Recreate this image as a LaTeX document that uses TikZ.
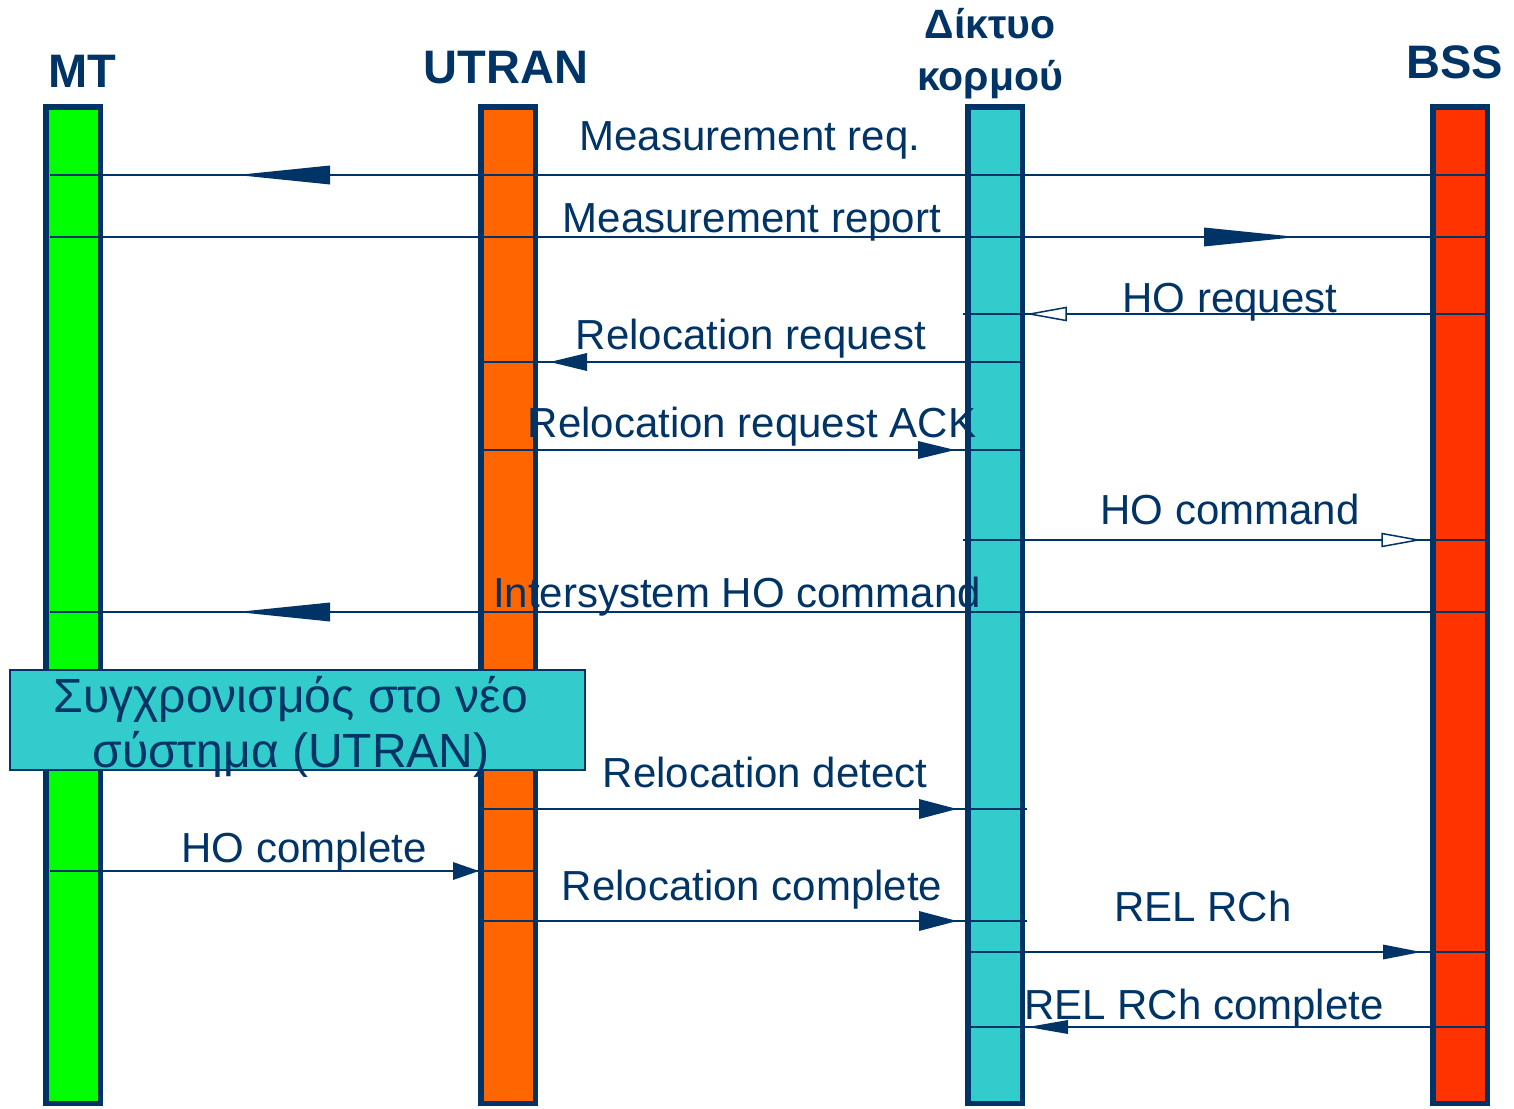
\documentclass[tikz,border=0pt]{standalone}
\usepackage{fontspec}
\setmainfont{Liberation Sans}
\usetikzlibrary{calc}
\definecolor{navy}{RGB}{0,51,102}
\definecolor{mtgreen}{RGB}{0,255,0}
\definecolor{utranorange}{RGB}{255,102,0}
\definecolor{corecyan}{RGB}{51,204,204}
\definecolor{bssred}{RGB}{255,51,0}

% point on a lifeline: name, lifeline, y, horizontal offset from its centre
\newcommand\msgpt[4]{\coordinate (#1) at ($(#2.center |- 0,#3)+(#4,0)$);}
% filled arrow head: tip x, tip y, signed length towards the base, half width
\newcommand\headsolid[4]{\fill[navy] (#1,#2) -- ++(#3,#4) -- ++(0,-2*#4) -- cycle;}
% open arrow head
\newcommand\headopen[4]{\filldraw[fill=white,draw=navy,line width=1.5pt] (#1,#2) -- ++(#3,#4) -- ++(0,-2*#4) -- cycle;}

\begin{document}
\begin{tikzpicture}[x=1pt,y=1pt,
  lifeline/.style={draw=navy, line width=5.5pt, minimum width=54.5pt,
    minimum height=996.5pt, inner sep=0pt, outer sep=0pt},
  header/.style={text=navy, font=\fontsize{47}{52}\selectfont\bfseries,
    anchor=base, inner sep=0pt},
  msglabel/.style={text=navy, font=\fontsize{42}{48}\selectfont,
    anchor=base, inner sep=0pt},
  msgline/.style={draw=navy, line width=2.5pt},
  syncbox/.style={draw=navy, line width=1.5pt, fill=corecyan,
    minimum width=575pt, minimum height=100pt, inner sep=0pt},
  synctext/.style={text=navy, font=\fontsize{48}{55}\selectfont,
    align=center, inner sep=0pt, anchor=base},
]
\useasboundingbox (0,0) rectangle (1514,-1108);

% lifelines
\node[lifeline, fill=mtgreen]     (mt)    at (73,-605)   {};
\node[lifeline, fill=utranorange] (utran) at (508,-605)  {};
\node[lifeline, fill=corecyan]    (core)  at (995,-605)  {};
\node[lifeline, fill=bssred]      (bss)   at (1460,-605) {};

% headers (a two-line node sits on the baseline of its last line)
\node[header] (hmt)    at (82,-87)   {MT};
\node[header] (hutran) at (506,-83)  {UTRAN};
\node[header, font=\fontsize{41}{52}\selectfont\bfseries, align=center]
              (hcore)  at (990,-90)  {Δίκτυο\\κορμού};
\node[header] (hbss)   at (1455,-78) {BSS};

% Measurement req.
\msgpt{m1a}{bss}{-175}{26} \msgpt{m1b}{mt}{-175}{-23}
\draw[msgline] (m1a) -- (m1b);
\headsolid{237}{-175}{93}{9.5}
\node[msglabel] (l1) at (750,-150) {Measurement req.};

% Measurement report
\msgpt{m2a}{mt}{-237}{-23} \msgpt{m2b}{bss}{-237}{26}
\draw[msgline] (m2a) -- (m2b);
\headsolid{1297}{-237}{-93}{9.5}
\node[msglabel] (l2) at (752,-232) {Measurement report};

% HO request
\msgpt{m3a}{bss}{-314}{26} \msgpt{m3b}{core}{-314}{-32}
\draw[msgline] (m3a) -- (m3b);
\headopen{1030}{-314}{36}{6.5}
\node[msglabel] (l3) at (1230,-312) {HO request};

% Relocation request
\msgpt{m4a}{core}{-362}{25} \msgpt{m4b}{utran}{-362}{-26}
\draw[msgline] (m4a) -- (m4b);
\headsolid{550}{-362}{37}{9}
\node[msglabel] (l4) at (751,-349) {Relocation request};

% Relocation request ACK
\msgpt{m5a}{utran}{-450}{-26} \msgpt{m5b}{core}{-450}{25}
\draw[msgline] (m5a) -- (m5b);
\headsolid{955}{-450}{-37}{9}
\node[msglabel] (l5) at (752,-437) {Relocation request ACK};

% HO command
\msgpt{m6a}{core}{-540}{-32} \msgpt{m6b}{bss}{-540}{26}
\draw[msgline] (m6a) -- (m6b);
\headopen{1418}{-540}{-36}{6.5}
\node[msglabel] (l6) at (1230,-524) {HO command};

% Intersystem HO command
\msgpt{m7a}{bss}{-612}{26} \msgpt{m7b}{mt}{-612}{-23}
\draw[msgline] (m7a) -- (m7b);
\headsolid{237}{-612}{93}{9.5}
\node[msglabel] (l7) at (737,-607) {Intersystem HO command};

% synchronisation to the new system
\node[syncbox] (sync) at (297.5,-720) {};
\node[synctext] (synct) at (291,-767) {Συγχρονισμός στο νέο\\σύστημα (UTRAN)};

% Relocation detect
\msgpt{m9a}{utran}{-809}{-26} \msgpt{m9b}{core}{-809}{32}
\draw[msgline] (m9a) -- (m9b);
\headsolid{957}{-809}{-38}{10}
\node[msglabel] (l9) at (765,-787) {Relocation detect};

% HO complete
\msgpt{m10a}{mt}{-871}{-23} \msgpt{m10b}{utran}{-871}{27}
\draw[msgline] (m10a) -- (m10b);
\headsolid{479}{-871}{-26}{9}
\node[msglabel] (l10) at (304,-862) {HO complete};

% Relocation complete
\msgpt{m11a}{utran}{-921}{-26} \msgpt{m11b}{core}{-921}{32}
\draw[msgline] (m11a) -- (m11b);
\headsolid{957}{-921}{-38}{10}
\node[msglabel] (l11) at (752,-900) {Relocation complete};

% REL RCh
\msgpt{m12a}{core}{-952}{-27} \msgpt{m12b}{bss}{-952}{26}
\draw[msgline] (m12a) -- (m12b);
\headsolid{1421}{-952}{-38}{7.5}
\node[msglabel] (l12) at (1203,-921) {REL RCh};

% REL RCh complete
\msgpt{m13a}{bss}{-1027}{26} \msgpt{m13b}{core}{-1027}{-27}
\draw[msgline] (m13a) -- (m13b);
\headsolid{1028}{-1027}{40}{7}
\node[msglabel] (l13) at (1204,-1019) {REL RCh complete};
\end{tikzpicture}
\end{document}
